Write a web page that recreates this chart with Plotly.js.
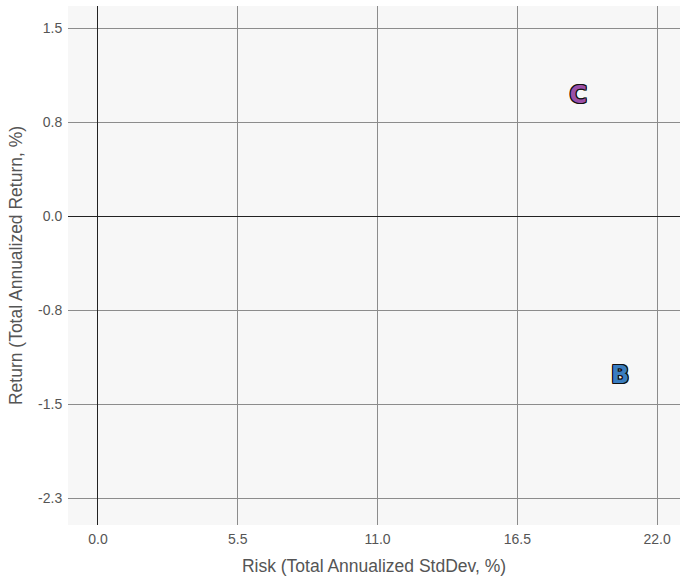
<!DOCTYPE html>
<html>
<head>
<meta charset="utf-8">
<script src="https://cdn.plot.ly/plotly-3.0.1.min.js"></script>
<style>html,body{margin:0;padding:0;background:#fff;}#chart{width:680px;height:580px;}</style>
</head>
<body>
<div id="chart"></div>
<script>
var labels = ["B", "C"];
var risk = [20.55, 18.9];
var ret = [-1.31, 0.97];
var colors = ["#3a7dbf", "#9a4fa8"];
var xTickVals = [0, 5.5, 11, 16.5, 22];
var xTickText = ["0.0", "5.5", "11.0", "16.5", "22.0"];
var yTickVals = [1.5333, 0.76667, 0, -0.76667, -1.5333, -2.3];
var yTickText = ["1.5", "0.8", "0.0", "-0.8", "-1.5", "-2.3"];
var xTitle = "Risk (Total Annualized StdDev, %)";
var yTitle = "Return (Total Annualized Return, %)";

var traces = labels.map(function (lab, i) {
  return {
    x: [risk[i]], y: [ret[i]], mode: "text", text: [lab], name: lab,
    textposition: "middle center",
    textfont: {family: "DejaVu Sans", size: 24, weight: 900, color: colors[i],
      shadow: "1px 1px 0 #111, -1px -1px 0 #111, 1px -1px 0 #111, -1px 1px 0 #111, 1px 0 0 #111, -1px 0 0 #111, 0 1px 0 #111, 0 -1px 0 #111"},
    hoverinfo: "x+y+name", showlegend: false
  };
});

var layout = {
  width: 680, height: 580,
  margin: {l: 68, r: 0, t: 6, b: 55},
  paper_bgcolor: "#ffffff", plot_bgcolor: "#f7f7f7",
  font: {family: "Liberation Sans, Arial, sans-serif", color: "#555"},
  xaxis: {
    range: [-1.18, 22.9], tickmode: "array", tickvals: xTickVals, ticktext: xTickText,
    ticks: "outside", ticklen: 1, tickcolor: "rgba(0,0,0,0)",
    gridcolor: "#8c8c8c", gridwidth: 1, zeroline: true, zerolinecolor: "#222", zerolinewidth: 1,
    tickfont: {size: 14, color: "#555"}, showline: false,
    title: {text: xTitle, font: {size: 17.5, color: "#555"}, standoff: 13}
  },
  yaxis: {
    range: [-2.52, 1.713], tickmode: "array", tickvals: yTickVals, ticktext: yTickText,
    ticks: "outside", ticklen: 2, tickcolor: "rgba(0,0,0,0)",
    gridcolor: "#8c8c8c", gridwidth: 1, zeroline: true, zerolinecolor: "#222", zerolinewidth: 1,
    tickfont: {size: 14, color: "#555"}, showline: false,
    title: {text: yTitle, font: {size: 17.5, color: "#555"}, standoff: 10}
  }
};

Plotly.newPlot("chart", traces, layout, {displayModeBar: false});
</script>
</body>
</html>
